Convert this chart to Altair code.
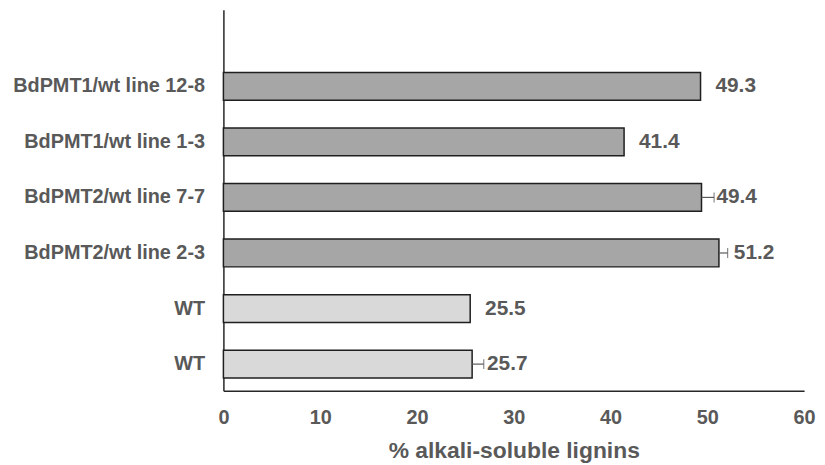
import altair as alt
import pandas as pd

ids = ["BdPMT1/wt line 12-8", "BdPMT1/wt line 1-3", "BdPMT2/wt line 7-7",
       "BdPMT2/wt line 2-3", "WT#1", "WT#2"]
values = [49.3, 41.4, 49.4, 51.2, 25.5, 25.7]
errors = [0.0, 0.0, 1.3, 0.9, 0.0, 1.2]
groups = ["line", "line", "line", "line", "wt", "wt"]
x_ticks = [0, 10, 20, 30, 40, 50, 60]

df = pd.DataFrame({"id": ids, "value": values, "err": errors, "group": groups})
df["hi"] = df["value"] + df["err"]

FONT = "Liberation Sans"
TXT = "#595959"

y_enc = alt.Y("id:N", sort=ids, title=None,
              scale=alt.Scale(paddingInner=0.5, paddingOuter=0.68, align=0.83),
              axis=alt.Axis(labelExpr="split(datum.label, '#')[0]", ticks=False,
                            labelPadding=19, labelLimit=0, labelFont=FONT,
                            labelFontWeight="bold", labelFontSize=20, labelColor=TXT,
                            domainColor="#262626", domainWidth=1.5, grid=False))
x_enc = alt.X("value:Q", title="% alkali-soluble lignins",
              scale=alt.Scale(domain=[0, 60], nice=False),
              axis=alt.Axis(values=x_ticks, ticks=False, grid=False, labelPadding=17,
                            labelFlush=False, labelFont=FONT, labelFontWeight="bold",
                            labelFontSize=20, labelColor=TXT, titleFont=FONT,
                            titleFontWeight="bold", titleFontSize=23, titleColor=TXT,
                            titlePadding=12, domainColor="#262626", domainWidth=1.5))

base = alt.Chart(df)

bars = base.mark_bar(stroke="#1f1f1f", strokeWidth=1.5).encode(
    y=y_enc, x=x_enc,
    color=alt.Color("group:N", scale=alt.Scale(domain=["line", "wt"],
                                               range=["#A6A6A6", "#D9D9D9"]), legend=None),
)

eb = base.transform_filter("datum.err > 0")
err_line = eb.mark_rule(color="#595959", strokeWidth=1.2).encode(
    y=alt.Y("id:N", sort=ids), x="value:Q", x2="hi:Q")
err_cap = eb.mark_tick(color="#595959", thickness=1.2, size=10, orient="vertical").encode(
    y=alt.Y("id:N", sort=ids), x="hi:Q")

labels = base.mark_text(align="left", baseline="middle", dx=15, font=FONT,
                        fontWeight="bold", fontSize=21, color=TXT).encode(
    y=alt.Y("id:N", sort=ids), x="value:Q", text=alt.Text("value:Q", format=".1f"))

chart = alt.layer(bars, err_line, err_cap, labels).properties(
    width=585, height=384,
    autosize=alt.AutoSizeParams(type="none"),
    padding={"left": 217, "top": 0, "right": 13, "bottom": 72},
).configure_view(stroke=None)

chart.save("out.html", embed_options={"renderer": "svg", "actions": False})
